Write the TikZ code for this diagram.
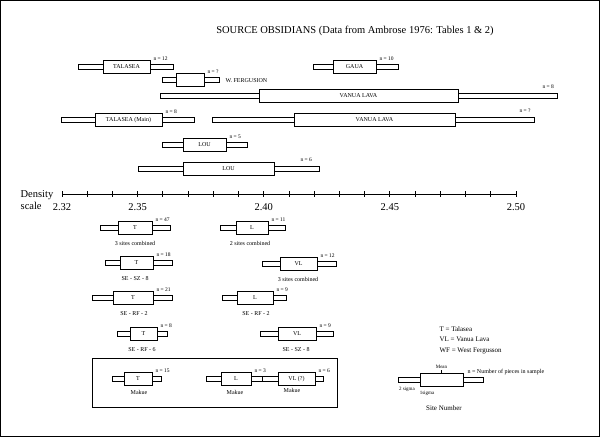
\documentclass[tikz,border=0pt]{standalone}
\usepackage{fontspec}
\setmainfont{Liberation Serif}
\begin{document}
% #1 name, #2 y, #3 outer left, #4 inner left, #5 inner right, #6 outer right, #7 text, #8 n
\newcommand{\sbar}[8]{%
  \draw[thick] (#3,#2-2.5) rectangle (#6,#2+2.5);
  \node[inner box,minimum width=#5-#4] (#1) at ({(#4+#5)/2},#2) {#7};
  \node[n label] (#1n) at (#5,#2-8) {#8};}
\begin{tikzpicture}[x=1pt,y=-1pt,font=\fontsize{6}{7}\selectfont,
  inner box/.style={draw,thick,fill=white,minimum height=13pt,inner sep=0pt},
  n label/.style={anchor=west,font=\fontsize{5.5}{6}\selectfont},
  site/.style={font=\fontsize{6}{7}\selectfont}]
  \useasboundingbox (0,0) rectangle (600,437);
  \draw (0.5,0.5) rectangle (599.5,436.5);
  \node[font=\fontsize{10.5}{12}\selectfont] (title) at (355,31) {SOURCE OBSIDIANS (Data from Ambrose 1976: Tables 1 \& 2)};

  % sources
  \sbar{tal}{67}{78}{103}{150}{173}{TALASEA}{n = 12}
  \sbar{gaua}{67}{313}{333}{376}{398}{GAUA}{n = 10}
  \sbar{wf}{80}{162}{176}{204}{219}{}{n = ?}
  \node[anchor=west] (wflab) at (222,81) {W. FERGUSION};
  \sbar{vl}{96}{160}{259}{458}{557}{VANUA LAVA}{}
  \node[n label] (vln) at (539,87) {n = 8};
  \sbar{talm}{120}{61}{95}{162}{194}{TALASEA (Main)}{n = 8}
  \sbar{vlb}{120}{212}{294}{455}{534}{VANUA LAVA}{}
  \node[n label] (vlbn) at (516,111) {n = ?};
  \sbar{lou}{145}{162}{183}{226}{247}{LOU}{n = 5}
  \sbar{loub}{169}{138}{183}{274}{319}{LOU}{}
  \node[n label] (loubn) at (297,160) {n = 6};

  % density scale
  \node[font=\fontsize{10.5}{12}\selectfont,align=left] (dens) at (37,200) {Density\\scale};
  \draw[thick] (62,194) -- (516,194);
  \foreach \i in {0,...,18}
    \draw[thick] ({62+\i*454/18},191) -- ({62+\i*454/18},197);
  \foreach \v/\x in {2.32/0,2.35/3,2.40/8,2.45/13,2.50/18}
    \node[font=\fontsize{10.5}{12}\selectfont] at ({62+\x*454/18},207) {\v};

  % sites
  \sbar{ta}{228}{100}{118}{152}{170}{T}{n = 47}
  \node[site] (tal1) at (135,243) {3 sites combined};
  \sbar{la}{228}{220}{236}{268}{285}{L}{n = 11}
  \node[site] (lal1) at (250,243) {2 sites combined};
  \sbar{tb}{263}{105}{120}{153}{172}{T}{n = 18}
  \node[site] (tbl) at (135,279) {SE - SZ - 8};
  \sbar{vla}{264}{262}{280}{317}{336}{VL}{n = 12}
  \node[site] (vlal) at (298,279) {3 sites combined};
  \sbar{tc}{298}{92}{113}{153}{172}{T}{n = 21}
  \node[site] (tcl) at (134,314) {SE - RF - 2};
  \sbar{lb}{298}{222}{237}{273}{286}{L}{n = 9}
  \node[site] (lbl) at (256,314) {SE - RF - 2};
  \sbar{td}{334}{117}{130}{157}{167}{T}{n = 8}
  \node[site] (tdl) at (142,350) {SE - RF - 6};
  \sbar{vlb2}{334}{260}{278}{316}{333}{VL}{n = 9}
  \node[site] (vlbl) at (296,350) {SE - SZ - 8};

  % Makue
  \draw[thick] (92,358) rectangle (337,407);
  \sbar{te}{379}{112}{124}{152}{161}{T}{n = 15}
  \node[site] (tel) at (139,392) {Makue};
  \sbar{lc}{379}{206}{221}{251}{262}{L}{n = 3}
  \node[site] (lcl) at (235,392) {Makue};
  \sbar{vlc}{379}{262}{278}{315}{323}{VL (?)}{n = 6}
  \node[site] (vlcl) at (292,390) {Makue};

  % key
  \node[anchor=west,align=left,font=\fontsize{7}{10.5}\selectfont] (key) at (436,340)
    {T = Talasea\\VL = Vanua Lava\\WF = West Fergusson};
  \sbar{leg}{380}{398}{420}{463}{483}{}{}
  \draw (leg.north) -- ++(0,-3) node[above,inner sep=1pt,font=\fontsize{5}{6}\selectfont] (mean) {Mean};
  \node[anchor=west,font=\fontsize{6}{7}\selectfont] (nkey) at (464,372) {n = Number of pieces in sample};
  \node[font=\fontsize{5}{6}\selectfont] (sig2) at (407,389) {2 sigma};
  \node[font=\fontsize{5}{6}\selectfont] (sig1) at (427,393) {1sigma};
  \node[font=\fontsize{7}{8}\selectfont] (sitenum) at (444,408) {Site Number};
\end{tikzpicture}
\end{document}
